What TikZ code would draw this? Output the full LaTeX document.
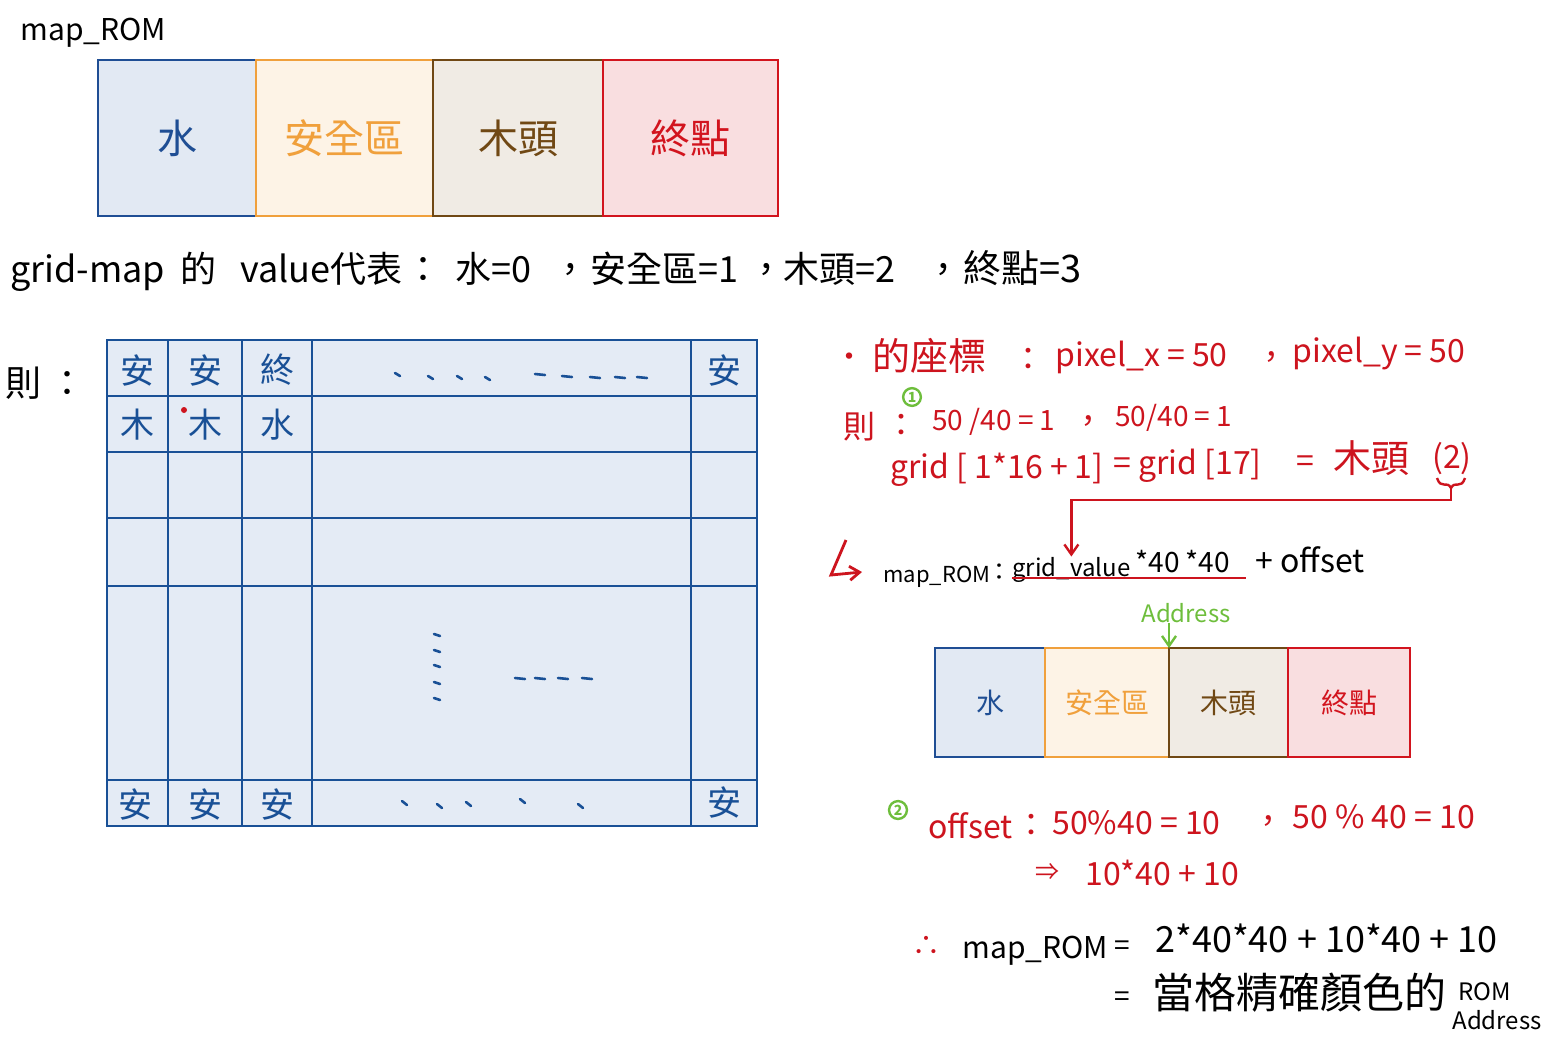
\documentclass[tikz,border=0pt]{standalone}
\usepackage{fontspec}
\setmainfont{Noto Sans CJK TC}
\usepackage{tikz}
\usetikzlibrary{arrows.meta, positioning}
\definecolor{waterBlue}{RGB}{31,78,148}
\definecolor{waterFill}{RGB}{226,233,243}
\definecolor{safeOrange}{RGB}{240,160,60}
\definecolor{safeFill}{RGB}{253,243,230}
\definecolor{woodBrown}{RGB}{112,72,20}
\definecolor{woodFill}{RGB}{240,235,228}
\definecolor{endRed}{RGB}{210,20,30}
\definecolor{endFill}{RGB}{249,222,224}
\definecolor{gridBlue}{RGB}{25,80,150}
\definecolor{gridFill}{RGB}{228,235,245}
\definecolor{noteRed}{RGB}{205,20,30}
\definecolor{noteGreen}{RGB}{110,190,60}

\begin{document}
\begin{tikzpicture}[x=0.5pt, y=-0.5pt,
  rombox/.style={rectangle, draw, line width=1.4pt, inner sep=0pt, outer sep=0pt},
  bigrom/.style={rombox, minimum height=78pt, font=\fontsize{20}{20}\selectfont},
  smallrom/.style={rombox, minimum height=54.5pt, font=\fontsize{14}{14}\selectfont},
  cell/.style={text=gridBlue, font=\fontsize{17}{17}\selectfont},
  txt/.style={anchor=base west, inner sep=0pt, font=\fontsize{18}{18}\selectfont},
  note/.style={txt, text=noteRed, font=\fontsize{16}{16}\selectfont},
  eq/.style={txt, font=\fontsize{12}{12}\selectfont},
  num/.style={circle, draw=noteGreen, text=noteGreen, line width=1.2pt, inner sep=0.8pt, font=\fontsize{7}{7}\selectfont\bfseries},
  tick/.style={gridBlue, line width=1.3pt, line cap=round},
  arrow/.style={-{Straight Barb[length=5pt,width=7pt]}, line width=1.2pt}
]
\fill[white] (0,0) rectangle (1562,1046);
\useasboundingbox (0,0) rectangle (1562,1046);

% map_ROM (top)
\node[txt, font=\fontsize{15}{15}\selectfont] (romlabel) at (20,40) {map\_ROM};
\node[bigrom, anchor=north west, minimum width=79pt, draw=waterBlue, fill=waterFill, text=waterBlue] (w1) at (98,60) {水};
\node[bigrom, right=0pt of w1, minimum width=88.5pt, draw=safeOrange, fill=safeFill, text=safeOrange] (s1) {安全區};
\node[bigrom, right=0pt of s1, minimum width=85pt, draw=woodBrown, fill=woodFill, text=woodBrown] (t1) {木頭};
\node[bigrom, right=0pt of t1, minimum width=87.5pt, draw=endRed, fill=endFill, text=endRed] (e1) {終點};

% value legend
\node[txt] (v1) at (10,282) {grid-map};
\node[txt] (v2) at (180,282) {的};
\node[txt] (v3) at (240,282) {value代表};
\node[txt] (v4) at (405,282) {：};
\node[txt] (v5) at (455,282) {水=0};
\node[txt] (v6) at (552,282) {，};
\node[txt] (v7) at (590,282) {安全區=1};
\node[txt] (v8) at (748,282) {，};
\node[txt] (v9) at (783,282) {木頭=2};
\node[txt] (v10) at (925,282) {，};
\node[txt, font=\fontsize{19}{19}\selectfont] (v11) at (963,282) {終點=3};

% grid
\node[txt] (then) at (5,396) {則 ：};
\draw[gridBlue, line width=1.4pt, fill=gridFill] (107,340) rectangle (757,826);
\foreach \x in {168,242,312,691}
  \draw[gridBlue, line width=1.4pt] (\x,340) -- (\x,826);
\foreach \y in {396,452,518,586,780}
  \draw[gridBlue, line width=1.4pt] (107,\y) -- (757,\y);
\node[cell] (c11) at (137,370) {安};
\node[cell] (c12) at (205,370) {安};
\node[cell] (c13) at (277,370) {終};
\node[cell] (c1n) at (724,370) {安};
\node[cell] (c21) at (137,425) {木};
\node[cell] (c22) at (205,425) {木};
\node[cell] (c23) at (277,425) {水};
\node[cell] (cn1) at (135,804) {安};
\node[cell] (cn2) at (205,804) {安};
\node[cell] (cn3) at (277,804) {安};
\node[cell] (cnn) at (724,802) {安};
\fill[noteRed] (184,410) circle (3);
\foreach \x/\y in {395/373,428/376,457/376,485/377}
  \draw[tick] (\x,\y) -- ++(5,3);
\foreach \x/\y in {535/374,562/376,590/377,615/377,637/377}
  \draw[tick] (\x,\y) -- ++(10,1);
\foreach \y in {634,650,665,682,698}
  \draw[tick] (434,\y) -- ++(6,2);
\foreach \x in {515,535,558,582}
  \draw[tick] (\x,678) -- ++(10,1);
\foreach \x/\y in {402/801,437/804,466/802,520/799,578/804}
  \draw[tick] (\x,\y) -- ++(5,4);

% coordinate of pixel
\node[note, anchor=center, font=\fontsize{15}{15}\selectfont] (dot) at (849,360) {•};
\node[note, font=\fontsize{19}{19}\selectfont] (p1) at (872,370) {的座標};
\node[note] (p2) at (1012,370) {：};
\node[note] (p3) at (1055,366) {pixel\_x = 50};
\node[note] (p4) at (1255,368) {，};
\node[note] (p5) at (1292,362) {pixel\_y = 50};

% step 1
\node[num] (one) at (912,397) {1};
\node[note] (q1) at (843,438) {則};
\node[note] (q2) at (885,436) {：};
\node[note, font=\fontsize{14}{14}\selectfont] (q3) at (932,430) {50 /40 = 1};
\node[note] (q4) at (1072,432) {，};
\node[note, font=\fontsize{14}{14}\selectfont] (q5) at (1115,426) {50/40 = 1};
\node[note] (r1) at (890,478) {grid [ 1*16 + 1]};
\node[note] (r2) at (1113,474) {= grid [17]};
\node[note] (r3) at (1296,472) {=};
\node[note, font=\fontsize{19}{19}\selectfont] (r4) at (1333,472) {木頭};
\node[note] (two) at (1432,468) {(2)};
\coordinate (brk) at (1451,488);
\draw[noteRed, line width=1.2pt] (1437,478) .. controls (1441,490) and (1447,480) .. (brk) .. controls (1455,480) and (1461,490) .. (1465,478);

% map_ROM formula
\coordinate (hk1) at (846,540);
\coordinate (hk2) at (831,575);
\coordinate (hk3) at (862,572);
\draw[arrow, noteRed, line width=1.4pt] (hk1) -- (hk2) -- (hk3);
\node[eq, font=\fontsize{11}{11}\selectfont] (f1) at (883,582) {map\_ROM};
\node[eq] (f1c) at (987,580) {：};
\node[eq] (gv) at (1012,576) {grid\_value};
\node[eq, font=\fontsize{14}{14}\selectfont] (f2) at (1135,572) {*40 *40};
\node[eq, font=\fontsize{16}{16}\selectfont] (f3) at (1255,572) {+ offset};
\draw[noteRed, line width=1.3pt] (1012,578) -- (1246,578);
\draw[arrow, noteRed] (brk) -- ++(0,12) -| (gv.north);

% map_ROM (bottom)
\node[txt, anchor=center, text=noteGreen, font=\fontsize{12}{12}\selectfont] (addr) at (1186,613) {Address};
\node[smallrom, anchor=north west, minimum width=55pt, draw=waterBlue, fill=waterFill, text=waterBlue] (w2) at (935,648) {水};
\node[smallrom, right=0pt of w2, minimum width=62pt, draw=safeOrange, fill=safeFill, text=safeOrange] (s2) {安全區};
\node[smallrom, right=0pt of s2, minimum width=59.5pt, draw=woodBrown, fill=woodFill, text=woodBrown] (t2) {木頭};
\node[smallrom, right=0pt of t2, minimum width=61pt, draw=endRed, fill=endFill, text=endRed] (e2) {終點};
\draw[arrow, noteGreen] (addr.south -| s2.north east) -- (s2.north east);

% step 2
\node[num] (twoc) at (898,810) {2};
\node[note] (o1) at (928,838) {offset};
\node[note] (o2) at (1015,836) {：};
\node[note] (o3) at (1052,834) {50\%40 = 10};
\node[note] (o4) at (1252,832) {，};
\node[note] (o5) at (1292,828) {50 \% 40 = 10};
\node[note, font=\fontsize{12}{12}\selectfont] (o6) at (1035,880) {⇒};
\node[note] (o7) at (1085,885) {10*40 + 10};

% result
\node[txt, text=noteRed, font=\fontsize{14}{14}\selectfont] (so) at (912,955) {∴};
\node[txt, font=\fontsize{15}{15}\selectfont] (m1) at (962,958) {map\_ROM};
\node[txt, font=\fontsize{14}{14}\selectfont] (m2) at (1114,955) {=};
\node[txt] (m3) at (1155,952) {2*40*40 + 10*40 + 10};
\node[txt, font=\fontsize{14}{14}\selectfont] (m4) at (1114,1006) {=};
\node[txt, font=\fontsize{21}{21}\selectfont] (m5) at (1152,1008) {當格精確顏色的};
\node[txt, font=\fontsize{12}{12}\selectfont] (m6) at (1458,1000) {ROM};
\node[txt, anchor=center, font=\fontsize{12}{12}\selectfont] (m7) at (1497,1020) {Address};

\end{tikzpicture}
\end{document}
